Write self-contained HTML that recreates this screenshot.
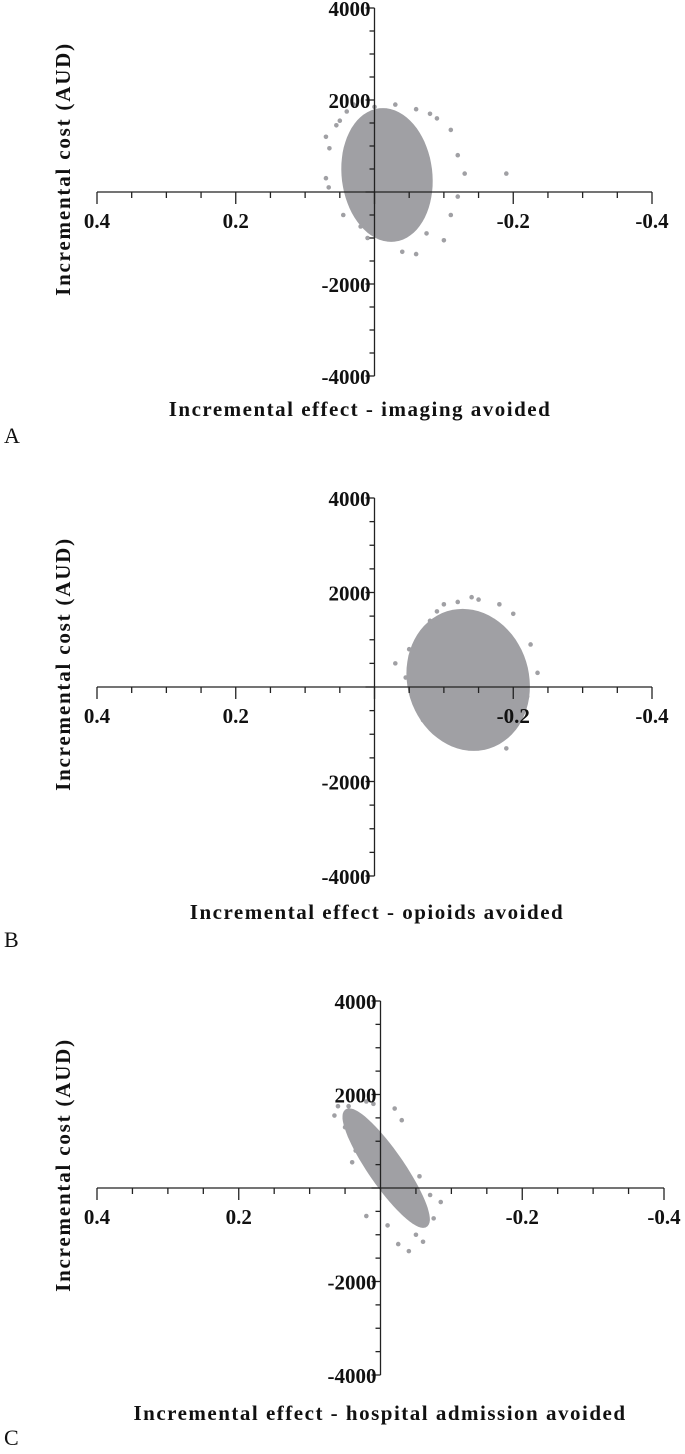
<!DOCTYPE html>
<html><head><meta charset="utf-8"><style>
body{margin:0;background:#fff;}
svg text{font-family:"Liberation Serif",serif;font-weight:bold;fill:#111;}
</style></head><body>
<svg id="c" width="685" height="1449" viewBox="0 0 685 1449" xmlns="http://www.w3.org/2000/svg"></svg>
<script>
const panelLetters=["A","B","C"];
const xTitles=["Incremental effect - imaging avoided","Incremental effect - opioids avoided","Incremental effect - hospital admission avoided"];
const xTickVals=[0.4,0.2,-0.2,-0.4];
const xTickLabels=["0.4","0.2","-0.2","-0.4"];
const yTickVals=[4000,2000,-2000,-4000];
const yTickLabels=["4000","2000","-2000","-4000"];
// core cloud parameters (data units)
const coreEffect=[-0.018,-0.135,-0.008];
const coreCost=[370,150,425];
const majorEffect=[0.006,0.008,0.052];
const majorCost=[1400,1450,1225];
const minorEffect=[0.062,0.085,0.026];
// outlying points
const outEffA=[0.07,0.065,0.07,0.066,0.05,0.03,-0.06,-0.09,-0.11,-0.12,-0.13,-0.19,-0.1,-0.06,-0.04,0.008,0.045,0.02,0.055,-0.075,-0.11,-0.12,0.04,-0.02,0.0,-0.03,0.01,-0.08];
const outCostA=[1200,950,300,100,1550,1900,1800,1600,1350,800,400,400,-1050,-1350,-1300,-700,-500,-750,1450,-900,-500,-100,1750,-950,1850,1900,-1000,1700];
const outEffB=[-0.05,-0.045,-0.06,-0.09,-0.15,-0.2,-0.225,-0.235,-0.22,-0.2,-0.19,-0.17,-0.11,-0.07,-0.08,-0.12,-0.03,-0.18,-0.1,-0.14,-0.16,-0.13];
const outCostB=[800,200,-300,1600,1850,1550,900,300,-200,-800,-1300,-1150,-900,-700,1400,1800,500,1750,1750,1900,-1000,-1000];
const outEffC=[0.065,0.06,0.045,0.02,-0.02,-0.03,0.04,0.035,-0.07,-0.085,-0.075,-0.06,-0.04,-0.025,-0.01,0.02,-0.055,0.05,0.01,-0.05];
const outCostC=[1550,1750,1750,1850,1700,1450,550,800,-150,-300,-650,-1150,-1350,-1200,-800,-600,250,1300,1800,-1000];
const outEff=[outEffA,outEffB,outEffC];
const outCost=[outCostA,outCostB,outCostC];
// layout
const L=[{x0:97,x1:652,yTop:8,yBot:376,letterY:443,titleY:416},
         {x0:97,x1:652,yTop:498,yBot:876,letterY:947,titleY:919},
         {x0:97,x1:664,yTop:1001,yBot:1375,letterY:1445,titleY:1420}];
const NS="http://www.w3.org/2000/svg";
const svg=document.getElementById('c');
function mk(tag,attrs,parent){const e=document.createElementNS(NS,tag);for(const k in attrs)e.setAttribute(k,attrs[k]);(parent||svg).appendChild(e);return e;}
L.forEach((p,i)=>{
  const g=mk('g',{});
  
  
  const X=v=>p.x0+(0.4-v)/0.8*(p.x1-p.x0);
  const Y=v=>p.yTop+(4000-v)/8000*(p.yBot-p.yTop);
  let pts=[];
  for(let k=0;k<72;k++){const t=k/72*2*Math.PI;
    const e=coreEffect[i]+majorEffect[i]*Math.cos(t)+minorEffect[i]*Math.sin(t);
    const c=coreCost[i]+majorCost[i]*Math.cos(t);
    pts.push(X(e).toFixed(1)+','+Y(c).toFixed(1));}
  const core=mk('polygon',{points:pts.join(' '),fill:'#a0a0a4',stroke:'#a0a0a4','stroke-width':5,'stroke-linejoin':'round'},g);
  
  
  outEff[i].forEach((e,j)=>{
    const d=mk('circle',{cx:X(e),cy:Y(outCost[i][j]),r:2.3,fill:'#a0a0a4'},g);
    
    
  });
  const y0=Y(0), xa=X(0);
  const xl=mk('line',{x1:p.x0,x2:p.x1,y1:y0,y2:y0,stroke:'#222','stroke-width':1.3},g);
  
  
  for(let k=0;k<=16;k++){const v=0.4-k*0.05;const maj=(k%4===0);
    mk('line',{x1:X(v),x2:X(v),y1:y0,y2:y0+(maj?12:6),stroke:'#222','stroke-width':1.3},g);}
  xTickVals.forEach((v,j)=>{const t=mk('text',{x:X(v),y:y0+36,'text-anchor':'middle','font-size':21},g);t.textContent=xTickLabels[j];
    
    });
  const yl=mk('line',{x1:xa,x2:xa,y1:p.yTop,y2:p.yBot,stroke:'#222','stroke-width':1.3},g);
  
  
  for(let k=0;k<=16;k++){const v=4000-k*500;const maj=(k%4===0);
    mk('line',{x1:xa,x2:xa-(maj?9:5),y1:Y(v),y2:Y(v),stroke:'#222','stroke-width':1.3},g);}
  yTickVals.forEach((v,j)=>{const t=mk('text',{x:xa-4,y:Y(v)+8,'text-anchor':'end','font-size':21},g);t.textContent=yTickLabels[j];
    
    });
  const yt=mk('text',{x:0,y:0,'text-anchor':'middle','font-size':21,'letter-spacing':'1.8',transform:`translate(70,${(p.yTop+p.yBot)/2-23}) rotate(-90)`},g);
  yt.textContent='Incremental cost (AUD)';
  
  
  const xt=mk('text',{x:(i===2?380:i===1?377:360),y:p.titleY,'text-anchor':'middle','font-size':21,'letter-spacing':'1.5'},g);
  xt.textContent=xTitles[i];
  
  
  const lt=mk('text',{x:4,y:p.letterY,'font-size':22,style:'font-weight:normal'},g);
  lt.textContent=panelLetters[i];
  
  
});
</script>
</body></html>
